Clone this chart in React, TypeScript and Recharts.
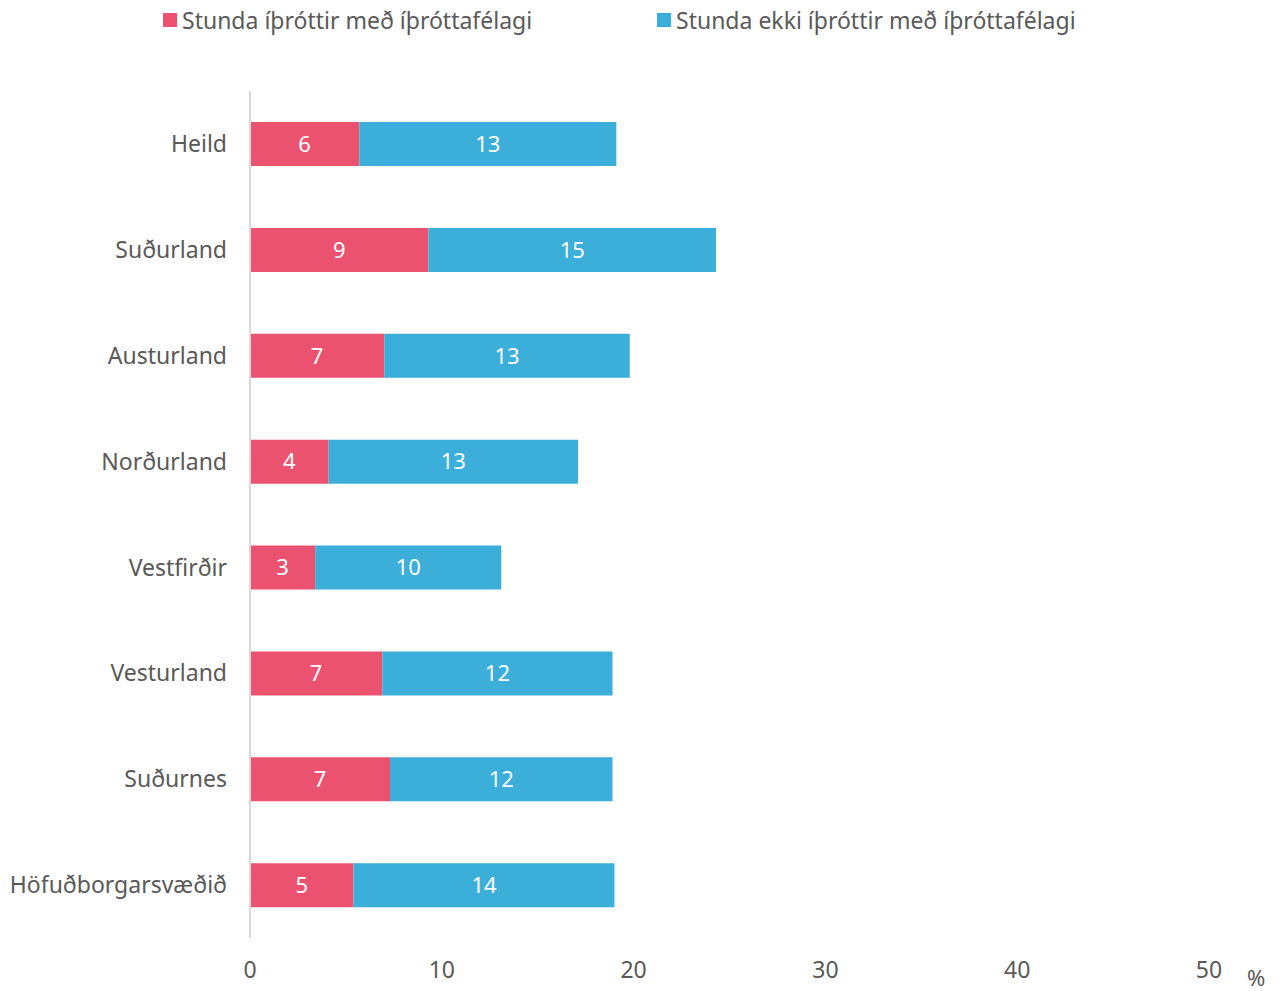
import { BarChart, Bar, XAxis, YAxis, LabelList } from "recharts";

// Landshlutar, efst til neðst
const REGIONS = [
  "Heild",
  "Suðurland",
  "Austurland",
  "Norðurland",
  "Vestfirðir",
  "Vesturland",
  "Suðurnes",
  "Höfuðborgarsvæðið",
];

// % sem stunda íþróttir með íþróttafélagi
const WITH_CLUB = [5.7, 9.3, 7.0, 4.1, 3.4, 6.9, 7.3, 5.4];
// % sem stunda ekki íþróttir með íþróttafélagi
const WITHOUT_CLUB = [13.4, 15.0, 12.8, 13.0, 9.7, 12.0, 11.6, 13.6];

const X_TICKS = [0, 10, 20, 30, 40, 50];

const SERIES = [
  { key: "withClub", name: "Stunda íþróttir með íþróttafélagi", color: "#EB5270" },
  { key: "withoutClub", name: "Stunda ekki íþróttir með íþróttafélagi", color: "#3BAED9" },
];

const data = REGIONS.map((region, i) => ({
  region,
  withClub: WITH_CLUB[i],
  withoutClub: WITHOUT_CLUB[i],
}));

const FONT = "'Noto Sans', sans-serif";
const TEXT = "#595959";

// legend sits above the plot, positioned by hand like the original
function TopLegend() {
  const lefts = [163, 657];
  return (
    <>
      {SERIES.map((s, i) => (
        <div
          key={s.key}
          style={{
            position: "absolute",
            left: lefts[i],
            top: 4,
            display: "flex",
            alignItems: "center",
            fontFamily: FONT,
            fontSize: 23,
            color: TEXT,
            whiteSpace: "nowrap",
          }}
        >
          <span
            style={{
              width: 14,
              height: 14,
              background: s.color,
              display: "inline-block",
              marginRight: 5,
            }}
          />
          {s.name}
        </div>
      ))}
    </>
  );
}

export default function App() {
  return (
    <div style={{ position: "absolute", left: 0, top: 0, width: 1285, height: 991, overflow: "hidden" }}>
      <BarChart
        width={1285}
        height={991}
        data={data}
        layout="vertical"
        margin={{ top: 91, right: 76, bottom: 0, left: 0 }}
      >
        <XAxis
          type="number"
          domain={[0, 50]}
          ticks={X_TICKS}
          axisLine={false}
          tickLine={false}
          tickMargin={18}
          height={53}
          tick={{ fill: TEXT, fontSize: 23, fontFamily: FONT }}
        />
        <YAxis
          type="category"
          dataKey="region"
          width={250}
          axisLine={{ stroke: "#D9D9D9", strokeWidth: 2 }}
          tickLine={false}
          tickMargin={17}
          tick={{ fill: TEXT, fontSize: 23, fontFamily: FONT }}
        />
        {SERIES.map((s) => (
          <Bar
            key={s.key}
            dataKey={s.key}
            name={s.name}
            stackId="a"
            fill={s.color}
            barSize={44}
            isAnimationActive={false}
          >
            <LabelList
              dataKey={s.key}
              position="center"
              fill="#FFFFFF"
              fontSize={22}
              fontFamily={FONT}
              formatter={(v: number) => Math.round(v)}
            />
          </Bar>
        ))}
      </BarChart>
      <TopLegend />
      <div
        style={{
          position: "absolute",
          left: 1247,
          top: 964,
          fontFamily: FONT,
          fontSize: 22,
          lineHeight: "26px",
          color: TEXT,
        }}
      >
        %
      </div>
    </div>
  );
}
